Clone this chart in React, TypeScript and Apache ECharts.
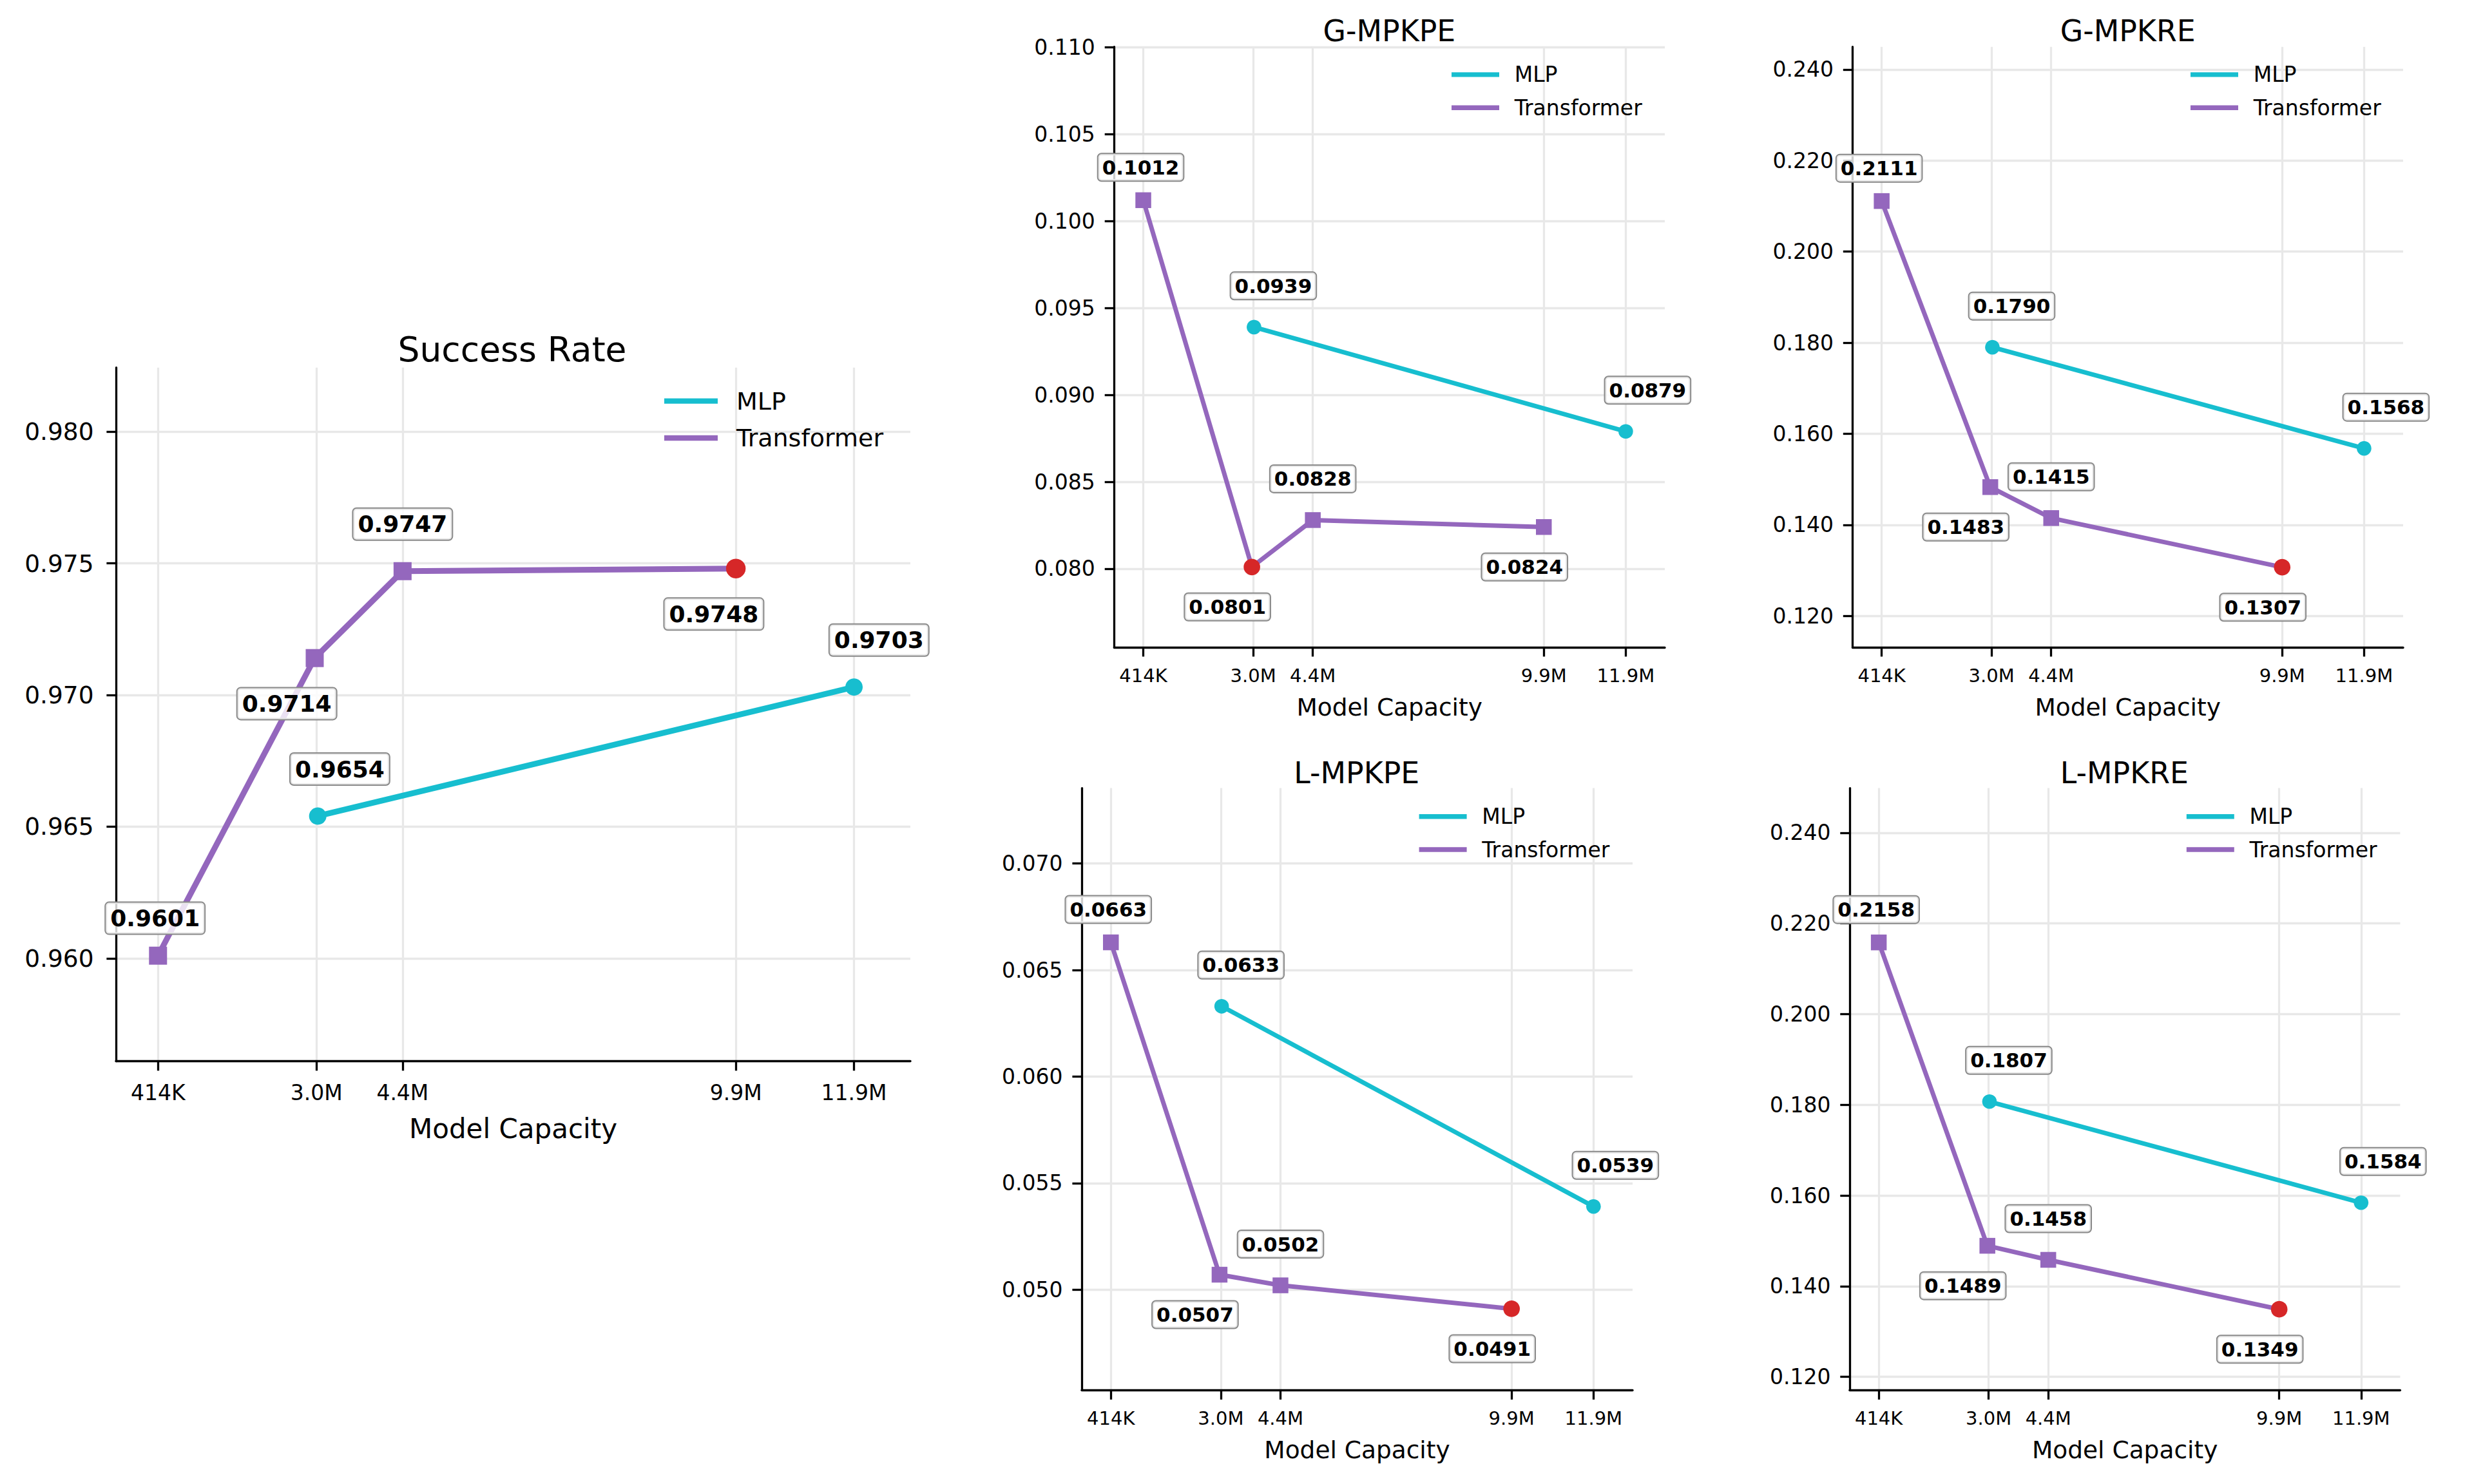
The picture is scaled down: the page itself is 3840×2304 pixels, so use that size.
import React, { useEffect, useRef } from 'react';
import * as echarts from 'echarts';

// ---------------- data ----------------
const X_TICK_VALUES = [0.414, 3.03, 4.45, 9.95, 11.9];
const X_TICK_LABELS = ['414K', '3.0M', '4.4M', '9.9M', '11.9M'];
const MLP_PARAMS = [3.05, 11.9];
const TRANSFORMER_PARAMS = [0.414, 3.0, 4.45, 9.95];

const SERIES_NAMES = ['MLP', 'Transformer'];

const SUCCESS_MLP = [0.9654, 0.9703];
const SUCCESS_TRANSFORMER = [0.9601, 0.9714, 0.9747, 0.9748];
const G_MPKPE_MLP = [0.0939, 0.0879];
const G_MPKPE_TRANSFORMER = [0.1012, 0.0801, 0.0828, 0.0824];
const G_MPKRE_MLP = [0.179, 0.1568];
const G_MPKRE_TRANSFORMER = [0.2111, 0.1483, 0.1415, 0.1307];
const L_MPKPE_MLP = [0.0633, 0.0539];
const L_MPKPE_TRANSFORMER = [0.0663, 0.0507, 0.0502, 0.0491];
const L_MPKRE_MLP = [0.1807, 0.1584];
const L_MPKRE_TRANSFORMER = [0.2158, 0.1489, 0.1458, 0.1349];

const Y_TICKS_SUCCESS = [0.96, 0.965, 0.97, 0.975, 0.98];
const Y_TICKS_G_MPKPE = [0.08, 0.085, 0.09, 0.095, 0.1, 0.105, 0.11];
const Y_TICKS_G_MPKRE = [0.12, 0.14, 0.16, 0.18, 0.2, 0.22, 0.24];
const Y_TICKS_L_MPKPE = [0.05, 0.055, 0.06, 0.065, 0.07];
const Y_TICKS_L_MPKRE = [0.12, 0.14, 0.16, 0.18, 0.2, 0.22, 0.24];

// ---------------- layout / style ----------------
const FONT = 'DejaVu Sans';
const CYAN = '#17becf';
const PURPLE = '#9467bd';
const RED = '#d62728';
const GRID_COLOR = '#e8e8e8';

const MLP_LABEL_OFFSETS = [[30, -64], [34, -64]];
const TRANSFORMER_LABEL_OFFSETS = [[-4, -51], [-38, 62], [0, -64], [-30, 62]];

const X_MIN = -0.28;
const X_MAX = 12.83;

const PANELS = [
  {
    title: 'Success Rate', mlp: SUCCESS_MLP, transformer: SUCCESS_TRANSFORMER, yTicks: Y_TICKS_SUCCESS,
    higherBetter: true, big: true,
    left: 180, top: 570.7, width: 1233, height: 1077, yMin: 0.95609, yMax: 0.98243,
    titleX: 795, titleY: 542, legendX: 1031, legendY: 622.6,
  },
  {
    title: 'G-MPKPE', mlp: G_MPKPE_MLP, transformer: G_MPKPE_TRANSFORMER, yTicks: Y_TICKS_G_MPKPE,
    higherBetter: false, big: false,
    left: 1729.3, top: 72.7, width: 854.7, height: 932.1, yMin: 0.075487, yMax: 0.110022,
    titleX: 2156.4, titleY: 47.7, legendX: 2253, legendY: 115.9,
  },
  {
    title: 'G-MPKRE', mlp: G_MPKRE_MLP, transformer: G_MPKRE_TRANSFORMER, yTicks: Y_TICKS_G_MPKRE,
    higherBetter: false, big: false,
    left: 2875.4, top: 72.7, width: 854.6, height: 932.1, yMin: 0.11315, yMax: 0.24496,
    titleX: 3302.7, titleY: 47.7, legendX: 3400, legendY: 115.9,
  },
  {
    title: 'L-MPKPE', mlp: L_MPKPE_MLP, transformer: L_MPKPE_TRANSFORMER, yTicks: Y_TICKS_L_MPKPE,
    higherBetter: false, big: false,
    left: 1679, top: 1223.6, width: 855, height: 934.7, yMin: 0.04528, yMax: 0.07354,
    titleX: 2105.8, titleY: 1200, legendX: 2202.6, legendY: 1267.7,
  },
  {
    title: 'L-MPKRE', mlp: L_MPKRE_MLP, transformer: L_MPKRE_TRANSFORMER, yTicks: Y_TICKS_L_MPKRE,
    higherBetter: false, big: false,
    left: 2870.9, top: 1223.6, width: 854.5, height: 934.7, yMin: 0.11706, yMax: 0.24983,
    titleX: 3297.4, titleY: 1200, legendX: 3393.8, legendY: 1267.7,
  },
];

function xLabel(v: number): string {
  for (let i = 0; i < X_TICK_VALUES.length; i++) {
    if (Math.abs(v - X_TICK_VALUES[i]) < 1e-6) return X_TICK_LABELS[i];
  }
  return '';
}

function buildOption() {
  const grid: any[] = [];
  const xAxis: any[] = [];
  const yAxis: any[] = [];
  const series: any[] = [];
  const title: any[] = [];
  const legend: any[] = [];

  PANELS.forEach((p, i) => {
    const big = p.big;
    const s = big ? 1.14 : 1;
    const tickFs = big ? 37.5 : 33;
    const xTickFs = big ? 33 : 29;
    const nameFs = big ? 42 : 37.5;
    const titleFs = big ? 53.5 : 45.8;
    const legendFs = big ? 38 : 33;
    const labelFs = big ? 36 : 31;
    const lineW = big ? 9 : 7;
    const circleSize = big ? 27 : 22.7;
    const squareSize = big ? 28 : 24.5;
    const redSize = big ? 30.5 : 25.7;

    grid.push({ left: p.left, top: p.top, width: p.width, height: p.height, containLabel: false });

    xAxis.push({
      type: 'value', gridIndex: i, min: X_MIN, max: X_MAX,
      name: 'Model Capacity', nameLocation: 'middle', nameGap: big ? 84 : 74,
      nameTextStyle: { fontSize: nameFs, color: '#000', fontFamily: FONT, lineHeight: nameFs },
      axisLine: { show: true, onZero: false, lineStyle: { color: '#000', width: 3.3 } },
      axisTick: { show: true, inside: false, length: 14.6, customValues: X_TICK_VALUES, lineStyle: { color: '#000', width: 3.3 } },
      axisLabel: {
        show: true, customValues: X_TICK_VALUES, formatter: (v: number) => xLabel(v),
        fontSize: xTickFs, lineHeight: xTickFs, color: '#000', fontFamily: FONT, margin: big ? 32 : 29.5,
      },
      splitLine: { show: true, lineStyle: { color: GRID_COLOR, width: 3.3 } },
    });

    yAxis.push({
      type: 'value', gridIndex: i, min: p.yMin, max: p.yMax,
      axisLine: { show: true, onZero: false, lineStyle: { color: '#000', width: 3.3 } },
      axisTick: { show: true, inside: false, length: 14.6, customValues: p.yTicks, lineStyle: { color: '#000', width: 3.3 } },
      axisLabel: {
        show: true, customValues: p.yTicks, formatter: (v: number) => v.toFixed(3),
        fontSize: tickFs, color: '#000', fontFamily: FONT, margin: big ? 34.5 : 29.5,
      },
      splitLine: { show: true, lineStyle: { color: GRID_COLOR, width: 3.3 } },
    });

    // best point across both series
    const all = [...p.mlp.map((v, k) => ({ v, s: 0, k })), ...p.transformer.map((v, k) => ({ v, s: 1, k }))];
    let best = all[0];
    all.forEach((a) => {
      if (p.higherBetter ? a.v > best.v : a.v < best.v) best = a;
    });

    const labelBase = {
      show: true, position: 'inside',
      formatter: (prm: any) => Number(prm.value[1]).toFixed(4),
      fontSize: labelFs, lineHeight: labelFs, fontWeight: 'bold', color: '#000', fontFamily: FONT,
      backgroundColor: 'rgba(255,255,255,0.8)', borderColor: '#8a8a8a', borderWidth: 2, borderRadius: 5,
      padding: big ? [6, 7, 6, 7] : [5, 6, 5, 6],
    };

    const mk = (si: number, xs: number[], ys: number[], color: string, symbol: string, size: number, offsets: number[][]) => ({
      type: 'line', name: SERIES_NAMES[si], xAxisIndex: i, yAxisIndex: i,
      color, symbol, symbolSize: size, showSymbol: true, showAllSymbol: true,
      lineStyle: { color, width: lineW },
      itemStyle: { color, borderWidth: 0 },
      label: labelBase,
      emphasis: { disabled: true },
      z: 3,
      data: xs.map((x, k) => {
        const item: any = { value: [x, ys[k]], label: { offset: [offsets[k][0] * s, offsets[k][1] * s] } };
        if (best.s === si && best.k === k) {
          item.symbol = 'circle';
          item.symbolSize = redSize;
          item.itemStyle = { color: RED, borderWidth: 0 };
        }
        return item;
      }),
    });

    series.push(mk(0, MLP_PARAMS, p.mlp, CYAN, 'circle', circleSize, MLP_LABEL_OFFSETS));
    series.push(mk(1, TRANSFORMER_PARAMS, p.transformer, PURPLE, 'rect', squareSize, TRANSFORMER_LABEL_OFFSETS));

    title.push({
      text: p.title, left: p.titleX, top: p.titleY - titleFs / 2, textAlign: 'center', padding: 0,
      textStyle: { fontSize: titleFs, fontWeight: 'normal', color: '#000', fontFamily: FONT, lineHeight: titleFs },
    });

    const itemW = big ? 83 : 74;
    const itemH = legendFs;
    const spacing = big ? 57.4 : 51.3;
    const textGap = big ? 29 : 23.7;
    legend.push({
      show: true, orient: 'vertical', left: p.legendX, top: p.legendY - itemH / 2, padding: 0,
      itemWidth: itemW, itemHeight: itemH, itemGap: spacing - itemH,
      icon: 'path://M0,0L20,0L20,2L0,2Z', selectedMode: false,
      itemStyle: { borderWidth: 0 },
      textStyle: { fontSize: legendFs, lineHeight: legendFs, color: '#000', fontFamily: FONT, padding: [0, 0, 0, textGap - 5] },
      data: SERIES_NAMES,
    });
  });

  return {
    animation: false,
    backgroundColor: '#ffffff',
    textStyle: { fontFamily: FONT },
    title, legend, grid, xAxis, yAxis, series,
  };
}

export default function App() {
  const ref = useRef<HTMLDivElement>(null);
  useEffect(() => {
    if (!ref.current) return;
    const chart = echarts.init(ref.current, undefined, { renderer: 'svg' });
    chart.setOption(buildOption() as any);
    return () => chart.dispose();
  }, []);
  return (
    <div
      ref={ref}
      style={{ position: 'fixed', left: 0, top: 0, width: 3840, height: 2304, background: '#fff' }}
    />
  );
}
